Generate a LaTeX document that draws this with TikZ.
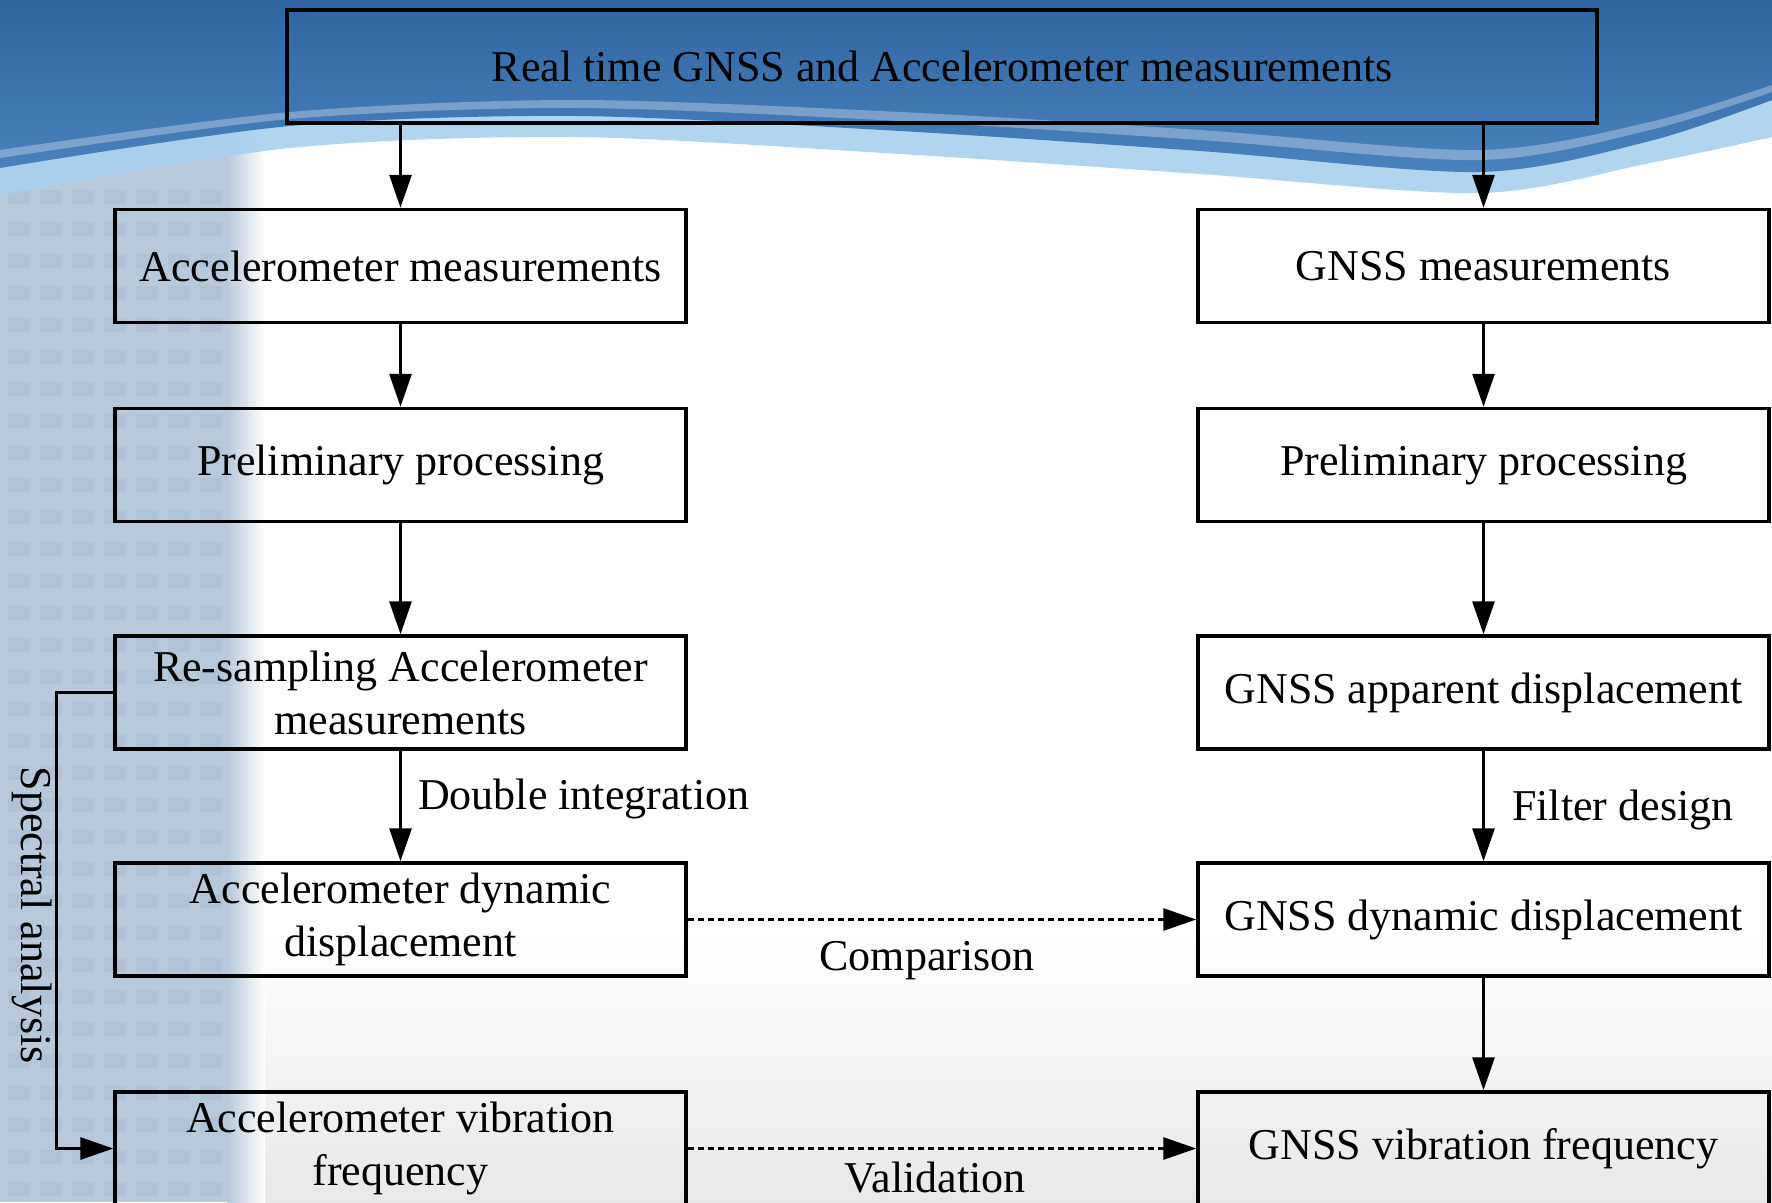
\documentclass[tikz,border=0pt]{standalone}
\usepackage{fontspec}
\setmainfont{Liberation Serif}
\usetikzlibrary{arrows.meta}
\definecolor{bldg}{HTML}{B7C9DB}
\definecolor{bldgdark}{HTML}{A2B7CC}
\definecolor{wavedark}{HTML}{2F66A2}
\definecolor{wavemid}{HTML}{4A82BE}
\definecolor{wavelight}{HTML}{A9D0EE}
\tikzset{
  box/.style={draw=black, line width=3.5pt, minimum width=571pt, minimum height=113pt,
    inner sep=0pt, align=center, font=\fontsize{44}{53}\selectfont},
  conn/.style={draw=black, line width=3pt, -{Triangle[length=33pt,width=22pt]}},
  dotconn/.style={conn, dash pattern=on 6.5pt off 3.5pt},
  lbl/.style={font=\fontsize{44}{53}\selectfont, inner sep=0pt}
}
\begin{document}
\begin{tikzpicture}[x=1pt,y=-1pt]
\useasboundingbox (0,0) rectangle (1772,1202);
\clip (0,0) rectangle (1772,1202);
% ---------- background ----------
\fill[white] (0,0) rectangle (1772,1202);
\shade[top color=white, bottom color=black!9] (228,930) rectangle (1772,1202);
\fill[bldg] (0,0) rectangle (228,1202);
\shade[left color=bldg, right color=white] (227,0) rectangle (265,1202);
\foreach \cx in {8,40,72,104,136,168,200}{
  \foreach \cy in {190,222,...,1190}{
    \fill[bldgdark, opacity=0.3] (\cx,\cy) rectangle ++(22,14);
  }
}
\fill[wavelight, opacity=0.9] plot[smooth] coordinates {(0,195) (290,148) (575,137) (900,154) (1200,174) (1480,193) (1650,163) (1772,137)} -- (1772,0) -- (0,0) -- cycle;
\shade[top color=wavedark, bottom color=wavemid] plot[smooth] coordinates {(0,168) (290,126) (575,116) (900,131) (1200,151) (1480,172) (1650,141) (1772,100)} -- (1772,0) -- (0,0) -- cycle;
\fill[white, opacity=0.3] plot[smooth] coordinates {(0,150) (290,112) (575,100) (900,112) (1200,130) (1480,150) (1650,122) (1772,85)} -- plot[smooth] coordinates {(1772,92) (1650,130) (1480,160) (1200,140) (900,121) (575,108) (290,119) (0,158)} -- cycle;
% ---------- nodes ----------
\node[box, minimum width=1310pt] (top) at (942,66.5) {Real time GNSS and Accelerometer measurements};
\node[box] (am) at (400.5,266) {Accelerometer measurements};
\node[box] (ap) at (400.5,465) {Preliminary processing};
\node[box] (ar) at (400.5,692.5) {Re-sampling Accelerometer\\measurements};
\node[box] (ad) at (400.5,919.5) {Accelerometer dynamic\\displacement};
\node[box] (av) at (400.5,1148.5) {Accelerometer vibration\\frequency};
\node[box] (gm) at (1483.5,266) {GNSS measurements};
\node[box] (gp) at (1483.5,465) {Preliminary processing};
\node[box] (ga) at (1483.5,692.5) {GNSS apparent displacement};
\node[box] (gd) at (1483.5,919.5) {GNSS dynamic displacement};
\node[box] (gv) at (1483.5,1148.5) {GNSS vibration frequency};
\coordinate (sa) at (56,692.5);
\coordinate (sb) at (56,1148.5);
% ---------- connectors ----------
\draw[conn] (top.south -| am.north) -- (am.north);
\draw[conn] (top.south -| gm.north) -- (gm.north);
\draw[conn] (am) -- (ap);
\draw[conn] (ap) -- (ar);
\draw[conn] (ar) -- (ad);
\draw[conn] (gm) -- (gp);
\draw[conn] (gp) -- (ga);
\draw[conn] (ga) -- (gd);
\draw[conn] (gd) -- (gv);
\draw[dotconn] (ad) -- (gd);
\draw[dotconn] (av) -- (gv);
\draw[conn] (ar.west) -- (sa) -- (sb) -- (av.west);
% ---------- labels ----------
\node[lbl, anchor=west] (l1) at (418,799) {Double integration};
\node[lbl, anchor=west] (l2) at (1512,810) {Filter design};
\node[lbl] (l3) at (927,961) {Comparison};
\node[lbl] (l4) at (935,1178) {Validation};
\node[lbl, rotate=-90] (l5) at (32,915) {Spectral analysis};
\end{tikzpicture}
\end{document}
